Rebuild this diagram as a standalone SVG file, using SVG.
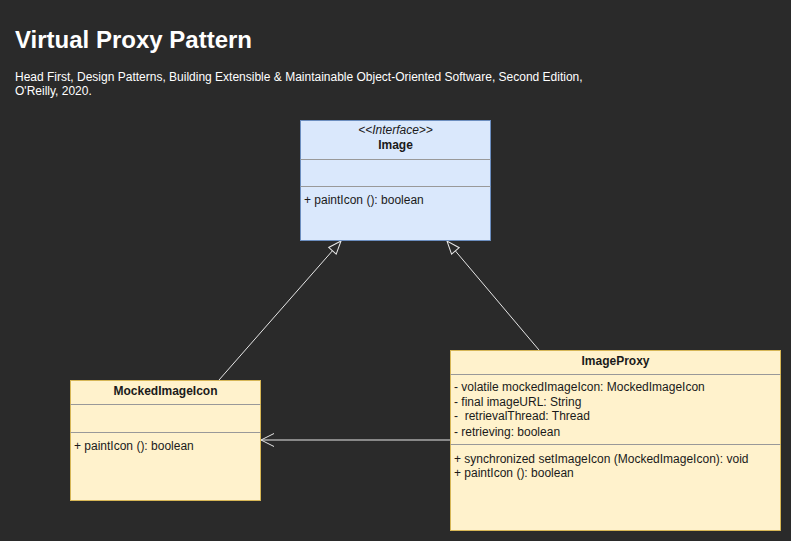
<svg xmlns="http://www.w3.org/2000/svg" width="791" height="541" viewBox="0 0 791 541">
<defs>
<style>
.t{font-family:"Liberation Sans",Arial,sans-serif;font-size:12px;fill:#1a1a1a}
.b{font-weight:bold}
.blue{fill:#dae8fc;stroke:#6c8ebf;stroke-width:1}
.yel{fill:#fff2cc;stroke:#d6b656;stroke-width:1}
.div{stroke:#999;stroke-width:1}
.edge{stroke:#e6e6e6;stroke-width:1;fill:none}
</style>
<marker id="tri" markerWidth="16" markerHeight="16" refX="15" refY="8" orient="auto" markerUnits="userSpaceOnUse" viewBox="0 0 16 16">
<path d="M15,8 L2,3 L2,13 Z" fill="#2a2a2a" stroke="#e6e6e6" stroke-width="1"/>
</marker>
<marker id="open" markerWidth="16" markerHeight="16" refX="15" refY="8" orient="auto" markerUnits="userSpaceOnUse" viewBox="0 0 16 16">
<path d="M2,1.5 L15,8 L2,14.5" fill="none" stroke="#e6e6e6" stroke-width="1"/>
</marker>
</defs>
<rect width="791" height="541" fill="#2a2a2a"/>
<g id="title">
<text x="15" y="48" style="font-family:'Liberation Sans',Arial,sans-serif;font-size:24px;font-weight:bold;fill:#fff">Virtual Proxy Pattern</text>
<text x="15" y="81" style="font-family:'Liberation Sans',Arial,sans-serif;font-size:12px;fill:#fff">Head First, Design Patterns, Building Extensible &amp; Maintainable Object-Oriented Software, Second Edition,</text>
<text x="15" y="95" style="font-family:'Liberation Sans',Arial,sans-serif;font-size:12px;fill:#fff">O'Reilly, 2020.</text>
</g>
<g id="connectors">
<path class="edge" d="M219,380 L341,241" marker-end="url(#tri)"/>
<path class="edge" d="M539,350 L447,241" marker-end="url(#tri)"/>
<path class="edge" d="M450,440 L261,440" marker-end="url(#open)"/>
</g>
<g id="Image">
<rect class="blue" x="300.5" y="120.5" width="190" height="120"/>
<text class="t" x="395.5" y="134" text-anchor="middle" font-style="italic" font-size="11">&lt;&lt;Interface&gt;&gt;</text>
<text class="t b" x="395.5" y="149" text-anchor="middle">Image</text>
<line class="div" x1="300.5" y1="159.5" x2="490.5" y2="159.5"/>
<line class="div" x1="300.5" y1="186.5" x2="490.5" y2="186.5"/>
<text class="t" x="304" y="204">+ paintIcon (): boolean</text>
</g>
<g id="MockedImageIcon">
<rect class="yel" x="70.5" y="380.5" width="190" height="120"/>
<text class="t b" x="165.5" y="395" text-anchor="middle">MockedImageIcon</text>
<line class="div" x1="70.5" y1="404.5" x2="260.5" y2="404.5"/>
<line class="div" x1="70.5" y1="432.5" x2="260.5" y2="432.5"/>
<text class="t" x="74" y="450">+ paintIcon (): boolean</text>
</g>
<g id="ImageProxy">
<rect class="yel" x="450.5" y="350.5" width="330" height="180"/>
<text class="t b" x="615.5" y="365" text-anchor="middle">ImageProxy</text>
<line class="div" x1="450.5" y1="374.5" x2="780.5" y2="374.5"/>
<text class="t" x="454" y="391">- volatile mockedImageIcon: MockedImageIcon</text>
<text class="t" x="454" y="406">- final imageURL: String</text>
<text class="t" x="454" y="420" xml:space="preserve">-  retrievalThread: Thread</text>
<text class="t" x="454" y="436">- retrieving: boolean</text>
<line class="div" x1="450.5" y1="444.5" x2="780.5" y2="444.5"/>
<text class="t" x="454" y="463">+ synchronized setImageIcon (MockedImageIcon): void</text>
<text class="t" x="454" y="477">+ paintIcon (): boolean</text>
</g>
</svg>
